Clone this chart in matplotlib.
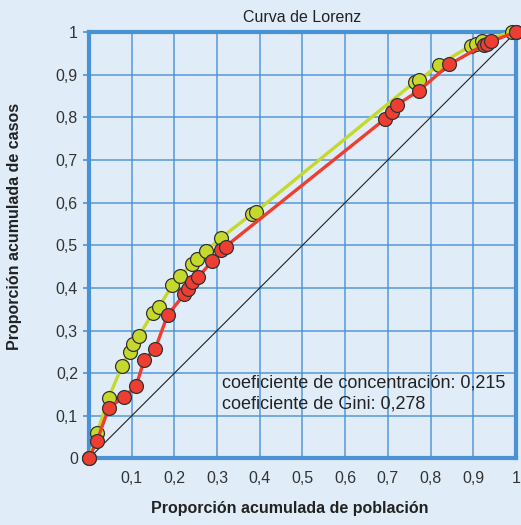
import matplotlib
matplotlib.use("Agg")
import matplotlib.pyplot as plt

# curva de Lorenz: proporciones acumuladas
pob_verde = [0, 0.019, 0.046, 0.077, 0.095, 0.104, 0.117, 0.150, 0.164, 0.195,
             0.214, 0.242, 0.252, 0.274, 0.310, 0.381, 0.391, 0.763, 0.773,
             0.819, 0.894, 0.907, 0.921, 0.991, 1.0]
casos_verde = [0, 0.060, 0.142, 0.216, 0.250, 0.268, 0.288, 0.342, 0.356, 0.406,
               0.429, 0.457, 0.468, 0.487, 0.518, 0.573, 0.579, 0.883, 0.887,
               0.923, 0.968, 0.972, 0.980, 1.0, 1.0]

pob_rojo = [0, 0.019, 0.046, 0.081, 0.110, 0.129, 0.155, 0.184, 0.223, 0.231,
            0.242, 0.255, 0.289, 0.309, 0.320, 0.693, 0.710, 0.722, 0.772,
            0.844, 0.925, 0.933, 0.942, 1.0]
casos_rojo = [0, 0.042, 0.118, 0.144, 0.169, 0.230, 0.257, 0.336, 0.385, 0.398,
              0.415, 0.425, 0.463, 0.488, 0.497, 0.796, 0.813, 0.830, 0.862,
              0.924, 0.970, 0.973, 0.978, 1.0]

ticks = [i / 10 for i in range(11)]
xlabels = [''] + ['0,%d' % i for i in range(1, 10)] + ['1']
ylabels = ['0'] + ['0,%d' % i for i in range(1, 10)] + ['1']

titulo = 'Curva de Lorenz'
nota = 'coeficiente de concentración: 0,215\ncoeficiente de Gini: 0,278'

bg = '#e0edf8'
azul = '#4a92d4'

plt.rcParams['font.family'] = ['Liberation Sans', 'DejaVu Sans']

fig = plt.figure(figsize=(5.21, 5.25), dpi=100, facecolor=bg)
ax = fig.add_axes([0.1708, 0.1267, 0.8196, 0.8123], facecolor=bg)

ax.set_xlim(0, 1)
ax.set_ylim(0, 1)
ax.set_xticks(ticks)
ax.set_yticks(ticks)
ax.set_xticklabels(xlabels, fontsize=11.5, color='#333333')
ax.set_yticklabels(ylabels, fontsize=11.5, color='#333333')
ax.tick_params(axis='x', length=0, pad=9)
ax.tick_params(axis='y', length=4, width=1.2, color=azul, pad=4)
ax.grid(True, color=azul, linewidth=1.2, alpha=0.85)
ax.set_axisbelow(True)
for s in ax.spines.values():
    s.set_color(azul)
    s.set_linewidth(3)

# diagonal de igualdad
ax.plot([0, 1], [0, 1], color='#222222', linewidth=0.8, zorder=2)

ax.plot(pob_verde, casos_verde, '-o', color='#c5d82c', linewidth=2.4,
        markersize=10, markeredgecolor='#333333', markeredgewidth=0.9,
        clip_on=False, zorder=3)
ax.plot(pob_rojo, casos_rojo, '-o', color='#ee3e32', linewidth=2.4,
        markersize=10, markeredgecolor='#333333', markeredgewidth=0.9,
        clip_on=False, zorder=4)

ax.text(0.311, 0.153, nota, fontsize=13, color='#222222', linespacing=1.3,
        va='center', ha='left', zorder=5)

ax.set_title(titulo, fontsize=11.5, color='#222222', pad=7)
fig.text(0.557, 0.022, 'Proporción acumulada de población', ha='center',
         fontsize=11.5, fontweight='bold', color='#222222')
fig.text(0.028, 0.569, 'Proporción acumulada de casos', va='center', ha='center',
         rotation=90, fontsize=11.5, fontweight='bold', color='#222222')

fig.savefig('out.png', dpi=100, facecolor=bg)
